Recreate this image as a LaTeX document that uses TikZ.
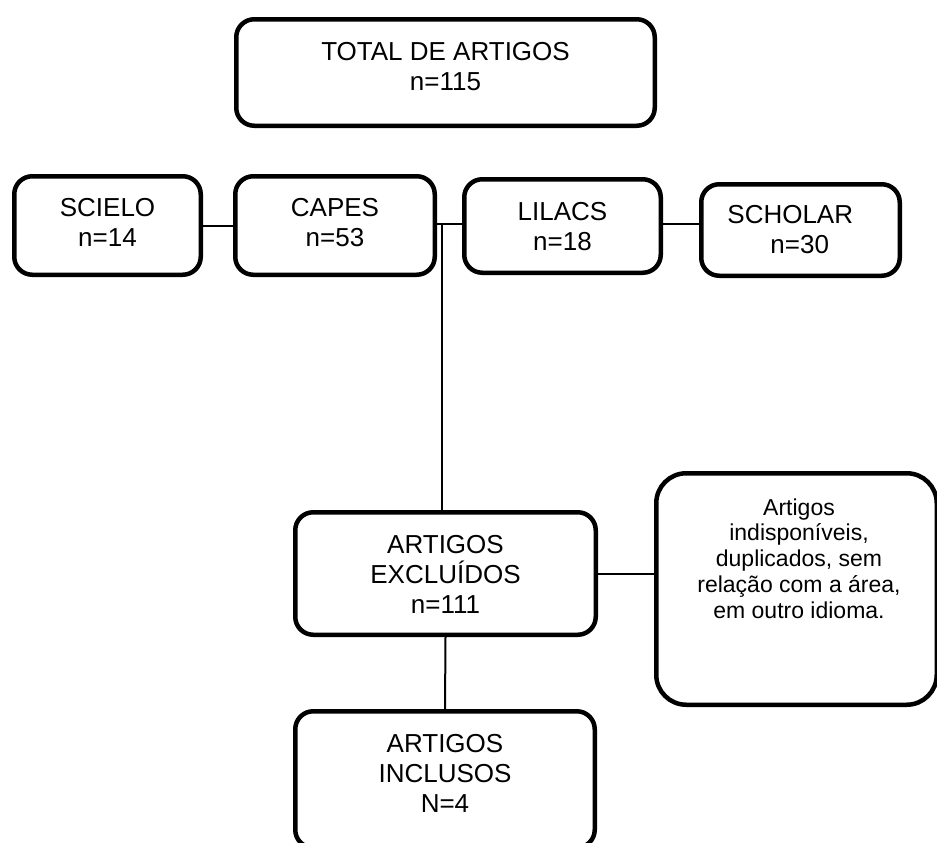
\documentclass[tikz,border=0pt]{standalone}
\usepackage{fontspec}
\setmainfont{Liberation Sans}
\newcommand\mylines[1]{\vtop{\halign{\hfil##\hfil\cr#1\crcr}}}
\newcommand\mylinesleft[1]{\vtop{\halign{##\hfil\cr#1\crcr}}}
\begin{document}
\begin{tikzpicture}[x=0.5pt,y=-0.5pt,
  box/.style={draw, line width=2.25pt, rounded corners=9pt, inner sep=0pt},
  link/.style={line width=1pt},
  lbl/.style={anchor=base, inner sep=0pt, font=\fontsize{13pt}{15pt}\selectfont},
  note/.style={anchor=base, inner sep=0pt, font=\fontsize{11.5pt}{12.9pt}\selectfont}]
\useasboundingbox (0,0) rectangle (937,842);
\clip (0,0) rectangle (937,842);
% boxes
\node[box, minimum width=209.25pt, minimum height=53.25pt] (total) at (445.5,72.5) {};
\node[box, minimum width=93.25pt, minimum height=49.25pt] (scielo) at (107.5,225.5) {};
\node[box, minimum width=99.75pt, minimum height=49.25pt] (capes) at (335,225.5) {};
\node[box, minimum width=98.25pt, minimum height=46.75pt] (lilacs) at (562.5,226) {};
\node[box, minimum width=99.25pt, minimum height=45.75pt] (scholar) at (800.5,230) {};
\node[box, minimum width=150.25pt, minimum height=61.25pt] (excl) at (445.5,573.5) {};
\node[box, minimum width=149.75pt, minimum height=68.25pt] (incl) at (445,779.5) {};
\node[box, rounded corners=15pt, minimum width=140.25pt, minimum height=115.75pt] (motivos) at (796.5,589) {};
% texts
\node[lbl] (totalt) at (445.5,60) {\mylines{TOTAL DE ARTIGOS\cr n=115}};
\node[lbl] (scielot) at (107.5,216) {\mylines{SCIELO\cr n=14}};
\node[lbl] (capest) at (335,216) {\mylines{CAPES\cr n=53}};
\node[lbl] (lilacst) at (562.5,220) {\mylines{LILACS\cr n=18}};
\node[lbl, anchor=base west] (scholart) at (727,223) {\mylinesleft{SCHOLAR\cr\hskip21.5pt n=30}};
\node[lbl] (exclt) at (445.5,553) {\mylines{ARTIGOS\cr EXCLUÍDOS\cr n=111}};
\node[lbl] (inclt) at (445,752) {\mylines{ARTIGOS\cr INCLUSOS\cr N=4}};
\node[note] (motivost) at (799,515) {\mylines{Artigos\cr indisponíveis,\cr duplicados, sem\cr relação com a área,\cr em outro idioma.}};
% connectors
\coordinate (j) at (442,224);
\draw[link] (scielo.east) -- (capes.west);
\draw[link] (capes.east |- j) -- (lilacs.west |- j);
\draw[link] (lilacs.east |- j) -- (scholar.west |- j);
\draw[link] (j) -- (j |- excl.north);
\draw[link] (excl.east) -- (motivos.west |- excl.east);
\draw[link] (excl.south) -- (incl.north);
\end{tikzpicture}
\end{document}
